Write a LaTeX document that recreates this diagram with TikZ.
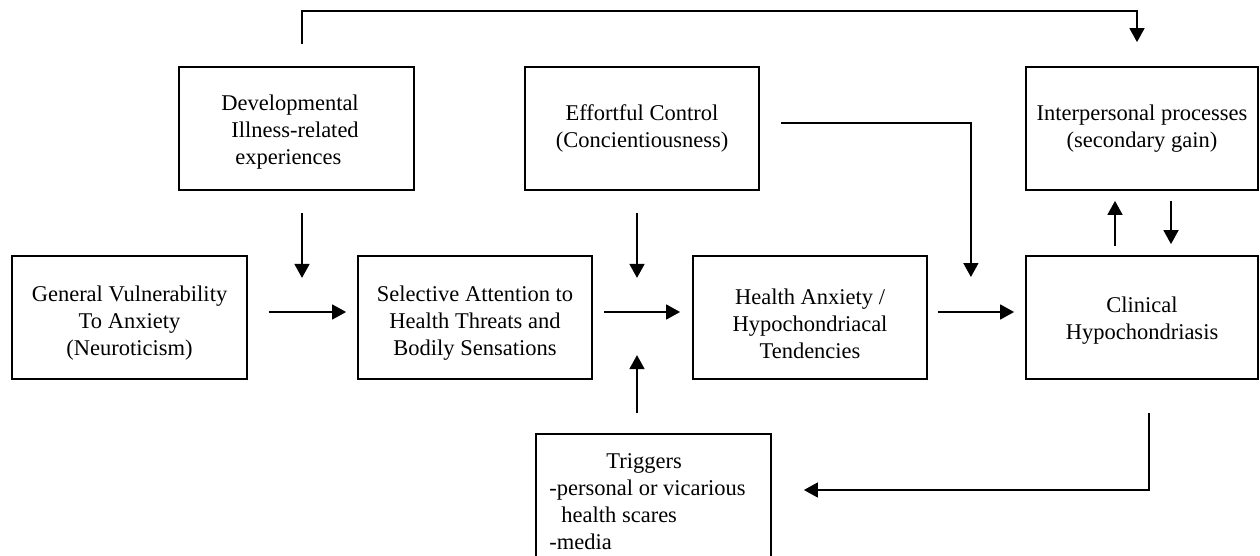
\documentclass[tikz,border=0pt]{standalone}
\usepackage{fontspec}
\setmainfont{Liberation Serif}
\usetikzlibrary{arrows.meta}
\tikzset{
  box/.style={draw, line width=1.8pt, minimum height=123pt, inner sep=0pt},
  txt/.style={align=center, inner sep=0pt, font=\fontsize{22.5pt}{27pt}\selectfont},
  arr/.style={line width=1.6pt, -{Triangle[length=14pt,width=15pt]}},
}
\begin{document}
\begin{tikzpicture}[x=1pt,y=1pt]
\useasboundingbox (0,0) rectangle (1260,555);
\clip (0,0) rectangle (1260,555);
% top row
\node[box, minimum width=235pt, label={[txt, align=left, xshift=-6.5pt, yshift=-4pt]center:{Developmental\\\hspace*{10pt}Illness-related\\\hspace*{14pt}experiences}}] (dev) at (296.5,426.5) {};
\node[box, minimum width=234pt, label={[txt]center:{Effortful Control\\(Concientiousness)}}] (eff) at (642,426.5) {};
\node[box, minimum width=232pt, label={[txt]center:{Interpersonal processes\\(secondary gain)}}] (inter) at (1142,426.5) {};
% middle row
\node[box, minimum width=235pt, label={[txt, yshift=-6pt]center:{General Vulnerability\\To Anxiety\\(Neuroticism)}}] (gen) at (129.5,237.5) {};
\node[box, minimum width=234pt, label={[txt, yshift=-6pt]center:{Selective Attention to\\Health Threats and\\Bodily Sensations}}] (sel) at (475,237.5) {};
\node[box, minimum width=234pt, label={[txt, yshift=-6pt]center:{Health Anxiety /\\Hypochondriacal\\Tendencies}}] (hea) at (810,237.5) {};
\node[box, minimum width=232pt, label={[txt, yshift=-3pt]center:{Clinical\\Hypochondriasis}}] (cli) at (1142,237.5) {};
% bottom
\node[box, minimum width=235pt, minimum height=135pt, label={[txt, align=left, xshift=-6pt]center:{\hspace*{57pt}Triggers\\-personal or vicarious\\\hspace*{12pt}health scares\\-media}}] (trig) at (653.5,53.5) {};
% connectors
\draw[arr] ([xshift=5.5pt,yshift=22pt]dev.north) -- ++(0,33pt) -| ([xshift=-5pt,yshift=24pt]inter.north);
\draw[arr] ([xshift=5.5pt,yshift=-22pt]dev.south) -- ++(0,-65pt);
\draw[arr] ([xshift=-5pt,yshift=-22pt]eff.south) -- ++(0,-65pt);
\draw[arr] ([xshift=21pt,yshift=5.5pt]eff.east) -| ++(190pt,-154pt);
\draw[arr] ([xshift=21pt,yshift=5.5pt]gen.east) -- ([xshift=-11pt,yshift=5.5pt]sel.west);
\draw[arr] ([xshift=11pt,yshift=5.5pt]sel.east) -- ([xshift=-12pt,yshift=5.5pt]hea.west);
\draw[arr] ([xshift=10pt,yshift=5.5pt]hea.east) -- ([xshift=-11pt,yshift=5.5pt]cli.west);
\draw[arr] ([xshift=-16.5pt,yshift=20pt]trig.north) -- ++(0,58pt);
\draw[arr] ([xshift=-27pt,yshift=9pt]cli.north) -- ([xshift=-27pt,yshift=-10pt]inter.south);
\draw[arr] ([xshift=29pt,yshift=-10pt]inter.south) -- ([xshift=29pt,yshift=11pt]cli.north);
\draw[arr] ([xshift=7pt,yshift=-33pt]cli.south) |- ([xshift=32pt,yshift=11.5pt]trig.east);
\end{tikzpicture}
\end{document}
